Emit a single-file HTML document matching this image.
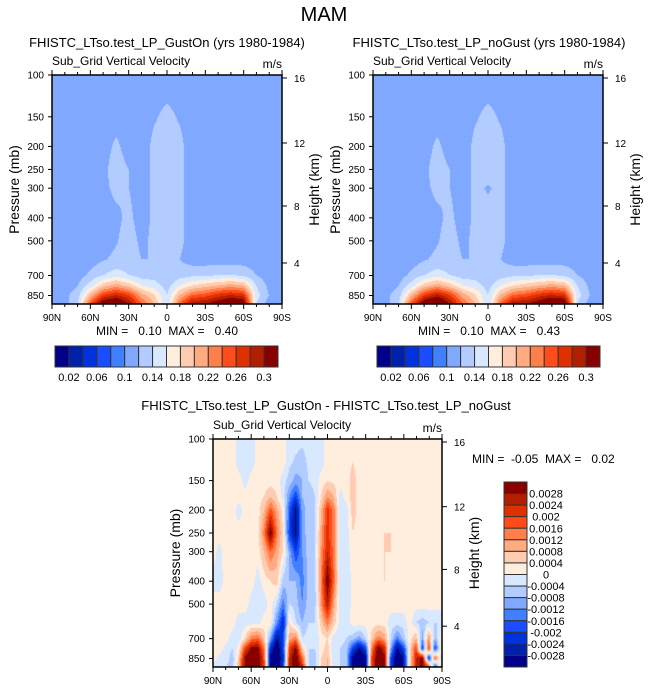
<!DOCTYPE html>
<html><head><meta charset="utf-8">
<style>
body{margin:0;background:#fff;width:648px;height:693px;overflow:hidden;position:relative;font-family:"Liberation Sans",sans-serif}
canvas{position:absolute}
svg{position:absolute;left:0;top:0}
svg text{white-space:pre}
</style></head>
<body>
<canvas id="c1" width="230" height="229" style="left:52px;top:75px"></canvas>
<canvas id="c2" width="230" height="229" style="left:373px;top:75px"></canvas>
<canvas id="c3" width="229" height="228" style="left:213px;top:439px"></canvas>
<svg id="ov" width="648" height="693"></svg>
<script>
const palette=["#00008a","#0022aa","#0033dd","#1a4dff","#4080ff","#80a8ff","#b2ccff","#d8e8ff","#ffeedd","#ffccb2","#ffaa80","#ff7f4a","#ff4c1a","#e03000","#b21e00","#880000"];
const lats=[90,80,70,60,50,40,30,20,10,0,-10,-20,-30,-40,-50,-60,-70,-80,-90];
const plevs=[100,150,200,250,300,400,500,600,700,775,850,925];
const topLevels=[0.02,0.04,0.06,0.08,0.1,0.12,0.14,0.16,0.18,0.2,0.22,0.24,0.26,0.28,0.3];
const topLabels=["0.02","0.06","0.1","0.14","0.18","0.22","0.26","0.3"];
const gustOn=[
[.11,.11,.11,.11,.11,.11,.11,.11,.11,.11,.11,.11,.11,.11,.11,.11,.11,.11,.11],
[.11,.11,.11,.11,.11,.11,.11,.11,.118,.125,.118,.11,.11,.11,.11,.11,.11,.11,.11],
[.11,.11,.11,.11,.11,.125,.11,.11,.125,.128,.125,.11,.11,.11,.11,.11,.11,.11,.11],
[.11,.11,.11,.11,.115,.13,.12,.11,.125,.128,.125,.11,.11,.11,.11,.11,.11,.11,.11],
[.11,.11,.11,.11,.115,.125,.12,.11,.125,.124,.125,.11,.11,.11,.11,.11,.11,.11,.11],
[.11,.11,.11,.11,.11,.115,.125,.11,.125,.128,.125,.11,.11,.11,.11,.11,.11,.11,.11],
[.11,.11,.11,.11,.11,.118,.13,.115,.125,.128,.125,.11,.11,.11,.11,.11,.11,.11,.11],
[.11,.11,.11,.11,.118,.125,.13,.12,.12,.124,.12,.11,.11,.11,.11,.11,.11,.11,.11],
[.11,.11,.11,.125,.14,.15,.14,.13,.13,.12,.13,.135,.135,.14,.14,.135,.12,.11,.11],
[.11,.11,.12,.15,.19,.21,.19,.16,.15,.13,.16,.18,.19,.2,.21,.2,.14,.115,.11],
[.11,.115,.13,.2,.26,.28,.26,.21,.18,.14,.2,.24,.25,.27,.28,.27,.15,.12,.11],
[.11,.11,.14,.25,.33,.34,.3,.24,.2,.14,.24,.3,.3,.32,.34,.33,.14,.11,.11]];
const noGust=[
[.11,.11,.11,.11,.11,.11,.11,.11,.11,.11,.11,.11,.11,.11,.11,.11,.11,.11,.11],
[.11,.11,.11,.11,.11,.11,.11,.11,.118,.125,.118,.11,.11,.11,.11,.11,.11,.11,.11],
[.11,.11,.11,.11,.11,.125,.11,.11,.125,.128,.125,.11,.11,.11,.11,.11,.11,.11,.11],
[.11,.11,.11,.11,.115,.13,.12,.11,.125,.128,.125,.11,.11,.11,.11,.11,.11,.11,.11],
[.11,.11,.11,.11,.115,.125,.12,.11,.125,.118,.125,.11,.11,.11,.11,.11,.11,.11,.11],
[.11,.11,.11,.11,.11,.115,.125,.11,.125,.128,.125,.11,.11,.11,.11,.11,.11,.11,.11],
[.11,.11,.11,.11,.11,.118,.13,.115,.125,.128,.125,.11,.11,.11,.11,.11,.11,.11,.11],
[.11,.11,.11,.11,.118,.125,.13,.12,.12,.124,.12,.11,.11,.11,.11,.11,.11,.11,.11],
[.11,.11,.11,.125,.14,.15,.14,.13,.13,.12,.13,.135,.135,.14,.14,.135,.12,.11,.11],
[.11,.11,.12,.15,.19,.21,.19,.16,.15,.13,.16,.18,.19,.2,.21,.2,.14,.115,.11],
[.11,.115,.13,.2,.26,.29,.26,.21,.18,.14,.2,.24,.25,.27,.28,.27,.15,.12,.11],
[.11,.11,.14,.25,.33,.35,.3,.24,.2,.14,.24,.3,.3,.32,.35,.34,.14,.11,.11]];
const dLats=[90,85,80,75,70,65,60,55,50,45,40,35,30,25,20,15,10,5,0,-5,-10,-15,-20,-25,-30,-35,-40,-45,-50,-55,-60,-65,-70,-75,-80,-85,-90];
const dPlevs=[100,125,150,175,200,250,300,400,500,600,700,775,850,925];
const diffLevels=[-28,-24,-20,-16,-12,-8,-4,0,4,8,12,16,20,24,28];
const diffLabels=["0.0028","0.0024","0.002","0.0016","0.0012","0.0008","0.0004","0","-0.0004","-0.0008","-0.0012","-0.0016","-0.002","-0.0024","-0.0028"];
const diffVals=[ /* units of 1e-4 m/s */
[2,2,2,2,-2,-2,-2,2,2,2,2,2,-2,-2,-3,-2,-2,-2,2,2,2,2,2,2,2,2,2,2,2,2,2,2,2,2,2,2,2],
[2,2,2,2,-2,-2,-2,2,2,2,2,2,-3,-5,-6,-3,-2,-2,2,2,2,2,4,2,2,2,2,2,2,2,2,2,2,2,2,2,2],
[2,2,2,2,2,-2,2,2,2,2,2,-2,-6,-10,-8,-4,-3,2,4,3,2,2,6,2,2,2,2,2,2,2,2,2,2,2,2,2,2],
[2,2,2,2,2,2,2,2,4,8,4,-2,-12,-20,-8,-6,-4,4,12,8,-2,2,6,2,2,2,2,2,2,2,2,2,2,2,2,2,2],
[2,2,2,2,-2,2,2,2,8,18,10,2,-18,-30,-10,-6,-4,8,22,14,-2,-2,6,2,2,2,2,2,2,2,2,2,2,2,2,2,2],
[2,2,4,2,2,4,2,2,14,32,14,4,-20,-30,-10,-6,-4,10,22,14,-2,-2,4,2,2,2,2,4,4,2,2,2,2,2,2,2,2],
[2,-2,4,2,2,2,2,2,8,16,10,4,-10,-20,-12,-6,-4,12,24,14,-2,-2,2,2,2,2,2,4,4,2,2,2,2,2,2,2,2],
[-2,-2,2,2,2,2,2,-2,2,4,6,-6,-8,-8,-14,-6,-6,14,32,16,-2,-4,2,2,2,2,2,4,2,2,2,2,2,2,2,2,2],
[2,2,2,2,2,2,-2,-2,-2,2,-4,-14,-4,-6,-12,-6,-6,12,26,10,-2,-4,2,2,2,2,2,2,2,2,2,2,2,2,2,2,2],
[2,2,2,2,-2,-2,-2,-2,2,2,-12,-24,4,-4,-8,-4,-4,6,14,6,-2,-2,2,2,2,2,2,2,-2,-2,-2,2,-4,-6,-4,-4,-4],
[2,2,2,-2,-2,4,14,16,6,-10,-28,-20,10,14,-4,-2,-4,2,4,-2,-2,-4,-6,-10,-4,6,14,10,-4,-14,-6,2,8,-10,12,-8,4],
[4,2,-2,-4,2,20,30,30,14,-24,-34,-20,20,30,6,-4,-4,2,6,-4,-4,-6,-20,-30,-20,14,32,24,-10,-30,-20,4,20,-20,20,-20,8],
[2,-2,-2,-6,6,30,34,34,18,-30,-34,-24,24,34,16,-4,-6,4,8,-4,-4,-8,-30,-34,-30,20,34,30,-20,-34,-28,4,24,30,-24,18,-6],
[-2,-2,-4,-6,8,30,34,34,20,-30,-34,-20,24,34,24,-4,-6,4,8,-4,-4,-8,-30,-34,-30,20,34,30,-20,-34,-28,4,24,30,20,-20,10]];

function hex(c){return [parseInt(c.substr(1,2),16),parseInt(c.substr(3,2),16),parseInt(c.substr(5,2),16)];}
const pal=palette.map(hex);
function interp(arr,v){
  const asc=arr[arr.length-1]>arr[0];
  for(let i=0;i<arr.length-1;i++){
    const a=arr[i],b=arr[i+1];
    if((asc&&v>=a&&v<=b)||(!asc&&v<=a&&v>=b)) return i+(v-a)/(b-a);
  }
  return (asc?v<arr[0]:v>arr[0])?0:arr.length-1;
}
function drawField(id,latA,pA,vals,levels){
  const cv=document.getElementById(id),ctx=cv.getContext('2d');
  const W=cv.width,H=cv.height,img=ctx.createImageData(W,H);
  const lp=pA.map(p=>Math.log(p));
  for(let y=0;y<H;y++){
    const p=Math.exp(Math.log(100)+(y/(H-1))*Math.log(923/100));
    let fj=interp(lp,Math.log(p));
    const j0=Math.min(Math.floor(fj),pA.length-2),tj=Math.min(fj-j0,1);
    for(let x=0;x<W;x++){
      const lat=90-180*x/(W-1);
      let fi=interp(latA,lat);
      const i0=Math.min(Math.floor(fi),latA.length-2),ti=Math.min(fi-i0,1);
      const v=(1-tj)*((1-ti)*vals[j0][i0]+ti*vals[j0][i0+1])+tj*((1-ti)*vals[j0+1][i0]+ti*vals[j0+1][i0+1]);
      let k=0;while(k<levels.length&&v>=levels[k])k++;
      const c=pal[k],o=(y*W+x)*4;
      img.data[o]=c[0];img.data[o+1]=c[1];img.data[o+2]=c[2];img.data[o+3]=255;
    }
  }
  ctx.putImageData(img,0,0);
}
drawField('c1',lats,plevs,gustOn,topLevels);
drawField('c2',lats,plevs,noGust,topLevels);
drawField('c3',dLats,dPlevs,diffVals,diffLevels);

const NS='http://www.w3.org/2000/svg',ov=document.getElementById('ov');
function el(tag,attrs,parent){const e=document.createElementNS(NS,tag);for(const k in attrs)e.setAttribute(k,attrs[k]);(parent||ov).appendChild(e);return e;}
function txt(s,x,y,size,anchor,parent,rot){const t=el('text',{x:x,y:y,'font-size':size,'text-anchor':anchor||'middle','font-family':'Liberation Sans, sans-serif',fill:'#000'},parent);if(rot)t.setAttribute('transform','rotate(-90 '+x+' '+y+')');t.textContent=s;return t;}

const t0=txt('MAM',324,21,20);



const presTicks=[100,150,200,250,300,400,500,700,850];
const xLabs=['90N','60N','30N','0','30S','60S','90S'];
const hTicks=[[16,3],[12,68],[8,131],[4,188]];
function panel(L,T,W,H,title,name,titleX){
  const g=el('g',{});
  
  
  const pt=txt(title,titleX,47,13,'middle',g);
  
  
  txt('Sub_Grid Vertical Velocity',L,T-10,12,'start',g);
  txt('m/s',L+W,T-7,12,'end',g);
  el('rect',{x:L,y:T,width:W,height:H,fill:'none',stroke:'#000','stroke-width':1.5},g);
  const ys=H/Math.log(923/100);
  presTicks.forEach(p=>{const y=T+Math.log(p/100)*ys;el('line',{x1:L-4,x2:L,y1:y,y2:y,stroke:'#000'},g);txt(String(p),L-8,y+3.5,10,'end',g);});
  hTicks.forEach(h=>{const y=T+h[1]*H/229;el('line',{x1:L+W,x2:L+W+5,y1:y,y2:y,stroke:'#000'},g);txt(String(h[0]),L+W+12,y+4,10,'start',g);});
  for(let k=0;k<=18;k++){const x=L+W*k/18,len=(k%3==0)?5:3;
    el('line',{x1:x,x2:x,y1:T-len,y2:T,stroke:'#000'},g);
    el('line',{x1:x,x2:x,y1:T+H,y2:T+H+len,stroke:'#000'},g);}
  xLabs.forEach((s,k)=>txt(s,L+W*k/6,T+H+17,10,'middle',g));
  const yl=txt('Pressure (mb)',L-33,T+H/2,14,'middle',g,true);
  
  
  const hl=txt('Height (km)',L+W+37,T+H/2,14,'middle',g,true);
  
  
  return g;
}
panel(52,75,230,229,'FHISTC_LTso.test_LP_GustOn (yrs 1980-1984)','gust-on-panel',167);
panel(373,75,230,229,'FHISTC_LTso.test_LP_noGust (yrs 1980-1984)','no-gust-panel',489);
panel(213,439,229,228,'','difference-panel',327);
txt('FHISTC_LTso.test_LP_GustOn - FHISTC_LTso.test_LP_noGust',326,410,13);
txt('MIN =   0.10  MAX =   0.40',167,335,12);
txt('MIN =   0.10  MAX =   0.43',489,335,12);
txt('MIN =  -0.05  MAX =   0.02',472,463,12,'start');

function hbar(L,T,W,H,name){
  const g=el('g',{});
  
  
  const bw=W/16;
  palette.forEach((c,k)=>{const r=el('rect',{x:L+k*bw,y:T,width:bw,height:H,fill:c,stroke:'#333','stroke-width':1},g);
    
    });
  topLabels.forEach((s,k)=>txt(s,L+bw*(1+2*k),T+H+14,11,'middle',g));
}
hbar(55,346,223,21,'gust-on-colorbar');
hbar(377,346,223,21,'no-gust-colorbar');
(function(){
  const g=el('g',{});
  
  
  const L=504,T=482,W=23,H=185,bh=H/16;
  for(let k=0;k<16;k++){const r=el('rect',{x:L,y:T+k*bh,width:W,height:bh,fill:palette[15-k],stroke:'#333','stroke-width':1},g);
    
    }
  diffLabels.forEach((s,k)=>txt(s,L+W+19,T+bh*(k+1)+4,11,'middle',g));
})();
</script>
</body></html>
